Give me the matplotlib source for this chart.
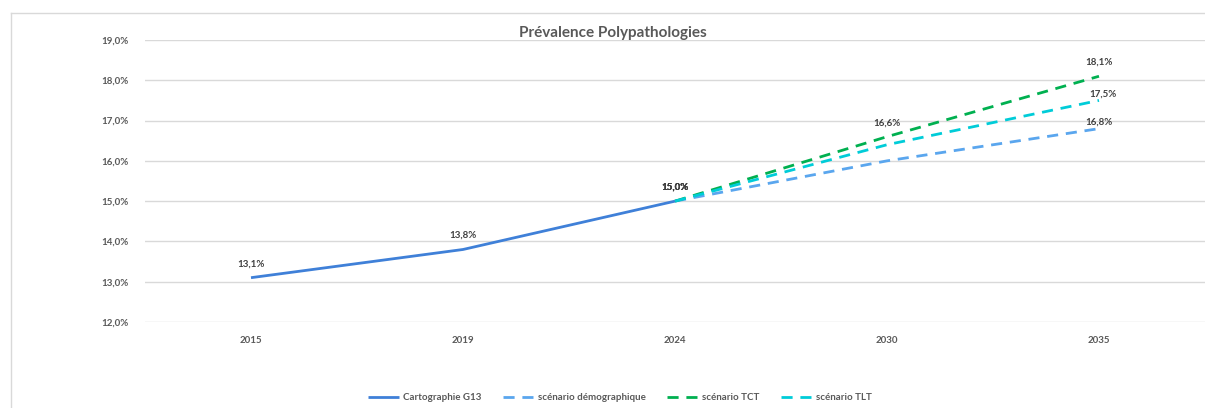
import numpy as np
import matplotlib
matplotlib.use("Agg")
from matplotlib import pyplot as plt
from matplotlib.lines import Line2D

plt.rcParams['font.family'] = ['Lato', 'DejaVu Sans']

# data (prevalence, %)
years = ["2015", "2019", "2024", "2030", "2035"]
cartographie = [13.1, 13.8, 15.0, np.nan, np.nan]
demographique = [np.nan, np.nan, 15.0, 16.0, 16.8]
tct = [np.nan, np.nan, 15.0, 16.6, 18.1]
tlt = [np.nan, np.nan, 15.0, 16.4, 17.5]

series_names = ["Cartographie G13", "scénario démographique", "scénario TCT", "scénario TLT"]
series_values = [cartographie, demographique, tct, tlt]
# which points get a data label
labelled = [[0, 1, 2], [2, 4], [2, 3, 4], [2, 4]]

colors = ["#3F80D8", "#5AA6EE", "#00B050", "#00CCD8"]
styles = ["-", "--", "--", "--"]
label_offsets = {(1, 4): (0, 7), (3, 4): (4, 6)}  # (series, point) -> offset in pixels

text_col = "#595959"
grid_col = "#D9D9D9"

fig = plt.figure(figsize=(12.05, 4.08), dpi=100)
# plot area runs past the right edge of the picture, as in the cropped original
ax = fig.add_axes([145 / 1205, 1 - 322 / 408, 1060 / 1205, (322 - 40) / 408])

# outer chart frame: only left and top edges are inside the picture
fx, fy = 10.5 / 1205, 1 - 12.5 / 408
fig.lines.append(Line2D([fx, fx], [0, fy], transform=fig.transFigure, color=grid_col, linewidth=1))
fig.lines.append(Line2D([fx, 1], [fy, fy], transform=fig.transFigure, color=grid_col, linewidth=1))

x = np.arange(len(years))
for i, (name, vals) in enumerate(zip(series_names, series_values)):
    v = np.array(vals, dtype=float) / 100
    line, = ax.plot(x, v, color=colors[i], linestyle=styles[i], linewidth=2, label=name,
                    solid_capstyle='butt', zorder=3 + i)
    if styles[i] == "--":
        line.set_dashes((4, 2.8))
    for j in labelled[i]:
        dx, dy = label_offsets.get((i, j), (0, 14))
        txt = f"{vals[j]:.1f}%".replace(".", ",")
        ax.annotate(txt, (x[j], v[j]), xytext=(dx * 0.72, dy * 0.72), textcoords="offset points",
                    ha="center", va="center", fontsize=7, fontweight="bold", color="#404040", zorder=10)

ax.set_xlim(-0.5, len(years) - 0.5)
ax.set_ylim(0.12, 0.19)
ax.set_yticks(np.arange(0.12, 0.1901, 0.01))
ax.set_yticklabels([f"{t * 100:.1f}%".replace(".", ",") for t in np.arange(0.12, 0.1901, 0.01)])
ax.set_xticks(x)
ax.set_xticklabels(years)
ax.tick_params(length=0, labelsize=7, labelcolor=text_col, pad=10)
ax.tick_params(axis='y', pad=12)
for lab in ax.get_xticklabels() + ax.get_yticklabels():
    lab.set_fontweight("bold")
ax.yaxis.grid(True, color=grid_col, linewidth=1)
ax.set_axisbelow(True)
ax.patch.set_visible(False)
for s in ax.spines.values():
    s.set_visible(False)

fig.text(613 / 1205, 1 - 33 / 408, "Prévalence Polypathologies", ha="center", va="center",
         fontsize=11, fontweight="bold", color=text_col)

leg = fig.legend(loc="center", bbox_to_anchor=(620 / 1205, 1 - 398 / 408), ncol=4, frameon=False,
                 fontsize=7, handlelength=3.2, columnspacing=2.2, handletextpad=0.4)
for t in leg.get_texts():
    t.set_fontweight("bold")
    t.set_color(text_col)

fig.savefig("out.png", dpi=100)
